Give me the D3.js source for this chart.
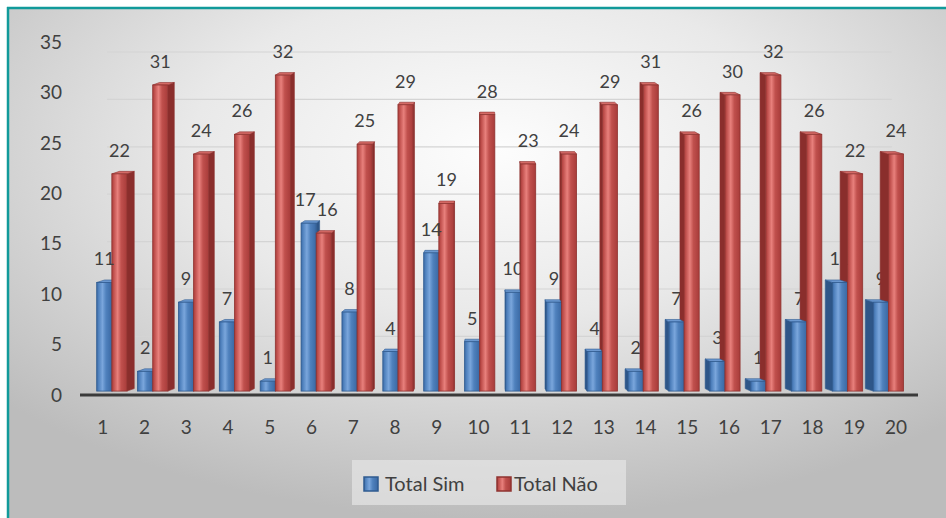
<!DOCTYPE html>
<html>
<head>
<meta charset="utf-8">
<script src="https://cdn.jsdelivr.net/npm/d3@7/dist/d3.min.js"></script>
<style>
  html, body { margin: 0; padding: 0; background: #ffffff; }
  svg { display: block; }
  text { font-family: "Lato", "Open Sans", sans-serif; fill: #404040; }
</style>
</head>
<body>
<script>
// Chart data
const categories = ["1","2","3","4","5","6","7","8","9","10","11","12","13","14","15","16","17","18","19","20"];
const totalSim = [11, 2, 9, 7, 1, 17, 8, 4, 14, 5, 10, 9, 4, 2, 7, 3, 1, 7, 11, 9];
const totalNao = [22, 31, 24, 26, 32, 16, 25, 29, 19, 28, 23, 24, 29, 31, 26, 30, 32, 26, 22, 24];
const seriesNames = ["Total Sim", "Total Não"];
const yTicks = [0, 5, 10, 15, 20, 25, 30, 35];

const W = 946, H = 518;
const svg = d3.select("body").append("svg").attr("width", W).attr("height", H);
const defs = svg.append("defs");

// background
const bg = defs.append("radialGradient").attr("id", "bg")
  .attr("cx", "52%").attr("cy", "28%").attr("r", "72%");
bg.append("stop").attr("offset", "0%").attr("stop-color", "#fdfdfd");
bg.append("stop").attr("offset", "45%").attr("stop-color", "#e9e9e9");
bg.append("stop").attr("offset", "100%").attr("stop-color", "#bcbcbc");
svg.append("rect").attr("x", 8).attr("y", 8).attr("width", W - 8).attr("height", H - 8).attr("fill", "url(#bg)");
svg.append("line").attr("x1", 8).attr("x2", 8).attr("y1", 7).attr("y2", H).attr("stroke", "#119a9a").attr("stroke-width", 2.5);
svg.append("line").attr("x1", 7).attr("x2", W).attr("y1", 8).attr("y2", 8).attr("stroke", "#119a9a").attr("stroke-width", 2.5);

// scales (front plane)
const x = d3.scaleBand().domain(categories).range([83, 918]).padding(0);
const sub = d3.scaleBand().domain(seriesNames).range([0, x.bandwidth()]).paddingInner(0).paddingOuter(0.35);
const y = d3.scaleLinear().domain([0, 35]).range([395, 42]);

// simple perspective toward a vanishing point
const VP = { x: 483, y: 208.7 };
const S_FRONT = 0.979, S_BACK = 0.959, S_WALL = 0.94, LIFT = 2.5;
const px = (vx, s) => VP.x + (vx - VP.x) * s;
const py = (vy, s) => VP.y + (vy - VP.y) * s;

// back wall gridlines
svg.append("g").selectAll("line").data(yTicks.filter(t => t > 0)).join("line")
  .attr("x1", px(83, S_WALL)).attr("x2", px(918, S_WALL))
  .attr("y1", t => py(y(t), S_WALL)).attr("y2", t => py(y(t), S_WALL))
  .attr("stroke", "#d4d4d4").attr("stroke-width", 1.2);

// y axis labels
svg.append("g").selectAll("text").data(yTicks).join("text")
  .attr("x", 62).attr("y", t => y(t)).attr("dy", "0.35em")
  .attr("text-anchor", "end").style("font-size", "19px").text(t => t);

// gradients for bar faces
const palettes = {
  "Total Sim": { edge: "#3a68a3", mid: "#4f81bd", light: "#7aa6dc", side: "#2e5688", top: "#6b98d0", stroke: "#2f5b90" },
  "Total Não": { edge: "#a83c3a", mid: "#c0504d", light: "#e8807c", side: "#8a2e2c", top: "#d46a66", stroke: "#8f3330" }
};
seriesNames.forEach((name, i) => {
  const p = palettes[name];
  const g = defs.append("linearGradient").attr("id", "front" + i).attr("x1", "0%").attr("x2", "100%");
  [[0, p.edge], [0.12, p.mid], [0.38, p.light], [0.62, p.mid], [1, p.edge]].forEach(([o, c]) =>
    g.append("stop").attr("offset", o).attr("stop-color", c));
});

// build bar geometry
const bars = [];
categories.forEach((c, ci) => {
  [totalSim, totalNao].forEach((vals, si) => {
    const name = seriesNames[si];
    const x0 = x(c) + sub(name), x1 = x0 + sub.bandwidth();
    const yt = y(vals[ci]), yb = y(0);
    const f = { x0: px(x0, S_FRONT), x1: px(x1, S_FRONT), yt: py(yt, S_FRONT), yb: py(yb, S_FRONT) };
    const b = { x0: px(x0, S_BACK), x1: px(x1, S_BACK), yt: f.yt - LIFT, yb: f.yb - LIFT };
    bars.push({ ci, si, name, value: vals[ci], f, b, right: (f.x0 + f.x1) / 2 > VP.x });
  });
});

function drawLabels(g, data) {
  const t = g.selectAll("text").data(data).join("text")
    .attr("x", d => (d.f.x0 + d.f.x1) / 2)
    .attr("y", d => d.f.yt - 17)
    .attr("text-anchor", "middle").style("font-size", "18px")
    .text(d => d.value);
  return t;
}

// labels of the right half sit behind the columns
const labelsBack = drawLabels(svg.append("g"), bars.filter(d => d.right));

const gBars = svg.append("g");
// side faces
gBars.append("g").selectAll("path").data(bars).join("path")
  .attr("d", d => {
    const { f, b } = d;
    const xf = d.right ? f.x0 : f.x1, xb = d.right ? b.x0 : b.x1;
    return `M${xf},${f.yt}L${xb},${b.yt}L${xb},${b.yb}L${xf},${f.yb}Z`;
  })
  .attr("fill", d => palettes[d.name].side)
  .attr("stroke", d => palettes[d.name].stroke).attr("stroke-width", 0.6);
// top faces
gBars.append("g").selectAll("path").data(bars).join("path")
  .attr("d", d => {
    const { f, b } = d;
    return `M${f.x0},${f.yt}L${f.x1},${f.yt}L${b.x1},${b.yt}L${b.x0},${b.yt}Z`;
  })
  .attr("fill", d => palettes[d.name].top)
  .attr("stroke", d => palettes[d.name].stroke).attr("stroke-width", 0.6);
// front faces
gBars.append("g").selectAll("rect").data(bars).join("rect")
  .attr("x", d => d.f.x0).attr("y", d => d.f.yt)
  .attr("width", d => d.f.x1 - d.f.x0).attr("height", d => d.f.yb - d.f.yt)
  .attr("fill", d => `url(#front${d.si})`)
  .attr("stroke", d => palettes[d.name].stroke).attr("stroke-width", 0.8);

const labelsFront = drawLabels(svg.append("g"), bars.filter(d => !d.right));

// keep neighbouring labels of one category from colliding
const allLabels = [];
labelsBack.each(function (d) { allLabels.push({ node: this, d }); });
labelsFront.each(function (d) { allLabels.push({ node: this, d }); });
categories.forEach((c, ci) => {
  const pair = allLabels.filter(l => l.d.ci === ci).sort((a, b) => a.d.si - b.d.si);
  if (pair.length !== 2) return;
  const [a, b] = pair;
  const ba = a.node.getBBox(), bb = b.node.getBBox();
  const vOverlap = ba.y < bb.y + bb.height && bb.y < ba.y + ba.height;
  const hOverlap = ba.x + ba.width + 1 - bb.x;
  if (vOverlap && hOverlap > 0) {
    d3.select(a.node).attr("x", +a.node.getAttribute("x") - hOverlap / 2);
    d3.select(b.node).attr("x", +b.node.getAttribute("x") + hOverlap / 2);
  }
});

// category axis
svg.append("line").attr("x1", 80).attr("x2", 918).attr("y1", 395).attr("y2", 395)
  .attr("stroke", "#3a3a3a").attr("stroke-width", 3);
svg.append("g").selectAll("text").data(categories).join("text")
  .attr("x", c => x(c) + x.bandwidth() / 2 - 1).attr("y", 427).attr("dy", "0.35em")
  .attr("text-anchor", "middle").style("font-size", "19px").text(c => c);

// legend
const lg = svg.append("g");
lg.append("rect").attr("x", 352).attr("y", 460).attr("width", 274).attr("height", 45).attr("fill", "#e6e6e6").attr("opacity", 0.7);
const legendItems = [
  { name: seriesNames[0], sx: 364, tx: 385 },
  { name: seriesNames[1], sx: 497, tx: 514 }
];
legendItems.forEach((it, i) => {
  const p = palettes[it.name];
  lg.append("rect").attr("x", it.sx).attr("y", 477).attr("width", 14).attr("height", 14)
    .attr("fill", `url(#front${i})`).attr("stroke", p.stroke).attr("stroke-width", 1.5);
  lg.append("text").attr("x", it.tx).attr("y", 484).attr("dy", "0.35em")
    .style("font-size", "20px").text(it.name);
});
</script>
</body>
</html>
